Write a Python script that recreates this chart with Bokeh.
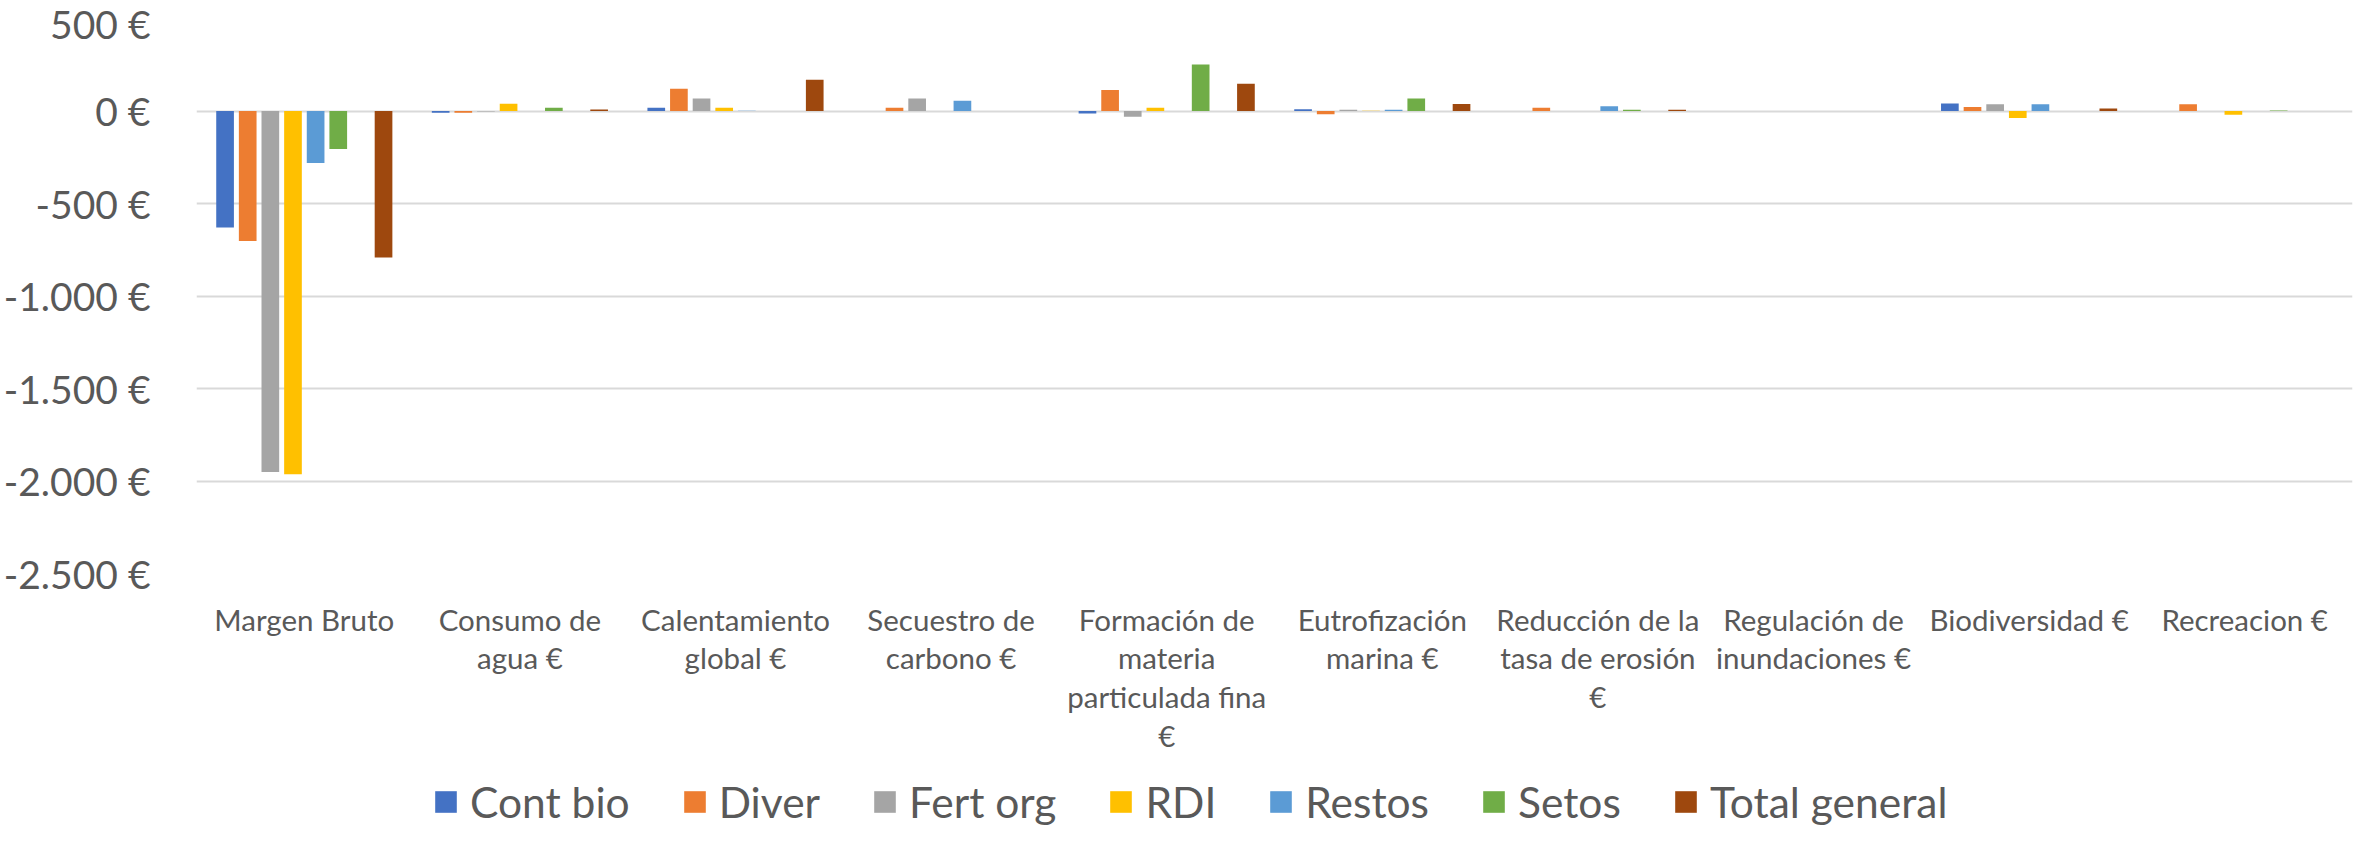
from bokeh.plotting import figure
from bokeh.layouts import column
from bokeh.models import (ColumnDataSource, FactorRange, Range1d, FixedTicker,
                          Legend, LegendItem)
from bokeh.transform import dodge
from bokeh.embed import file_html
from bokeh.resources import INLINE

# ---- data -------------------------------------------------------------
categories = ["Margen Bruto", "Consumo de agua €", "Calentamiento global €",
              "Secuestro de carbono €", "Formación de materia particulada fina €",
              "Eutrofización marina €", "Reducción de la tasa de erosión €",
              "Regulación de inundaciones €", "Biodiversidad €", "Recreacion €"]
category_labels = ["Margen Bruto", "Consumo de\nagua €", "Calentamiento\nglobal €",
                   "Secuestro de\ncarbono €", "Formación de\nmateria\nparticulada fina\n€",
                   "Eutrofización\nmarina €", "Reducción de la\ntasa de erosión\n€",
                   "Regulación de\ninundaciones €", "Biodiversidad €", "Recreacion €"]

series_names = ["Cont bio", "Diver", "Fert org", "RDI", "Restos", "Setos", "Total general"]
cont_bio      = [-630,   -9,  18,  0, -14,   9,  0, 0,  41,   0]
diver         = [-703,   -9, 120, 18, 113, -18, 18, 0,  22,  36]
fert_org      = [-1952,  -3,  67, 67, -31,   7,  0, 0,  36,   0]
rdi           = [-1963,  39,  18,  0,  18,   2,  0, 0, -38, -20]
restos        = [-281,    0,   2, 56,   0,   7, 26, 0,  36,   0]
setos         = [-206,   17,   0,  0, 252,  67,  7, 0,   0,   3]
total_general = [-792,    8, 169,  0, 147,  38,  7, 0,  14,   0]
series_values = [cont_bio, diver, fert_org, rdi, restos, setos, total_general]

y_ticks = [500, 0, -500, -1000, -1500, -2000, -2500]
y_tick_labels = ["500 €", "0 €", "-500 €", "-1.000 €", "-1.500 €", "-2.000 €", "-2.500 €"]

colors = ["#4472C4", "#ED7D31", "#A5A5A5", "#FFC000", "#5B9BD5", "#70AD47", "#9E480E"]
# Excel chart has 8 series slots; slot 6 is an empty (blank) series
slots = [0, 1, 2, 3, 4, 5, 7]

FONT = "Lato"
TXT = "#595959"
W = 2360
H_MAIN = 762
H_LEG = 65

src = {"cat": category_labels}
for name, vals in zip(series_names, series_values):
    src[name] = vals
source = ColumnDataSource(src)

p = figure(width=W, height=H_MAIN, output_backend="svg", toolbar_location=None,
           x_range=FactorRange(factors=category_labels, range_padding=0),
           y_range=Range1d(-2500, 500),
           min_border_left=189, min_border_right=8, min_border_top=18,
           min_border_bottom=H_MAIN - 573)
p.outline_line_color = None
p.background_fill_color = "white"
p.border_fill_color = "white"

slot_step = 0.105
bar_w = 0.082
for name, col, slot in zip(series_names, colors, slots):
    off = (slot - 3.5) * slot_step
    p.vbar(x=dodge("cat", off, range=p.x_range), top=name, bottom=0,
           width=bar_w, source=source, fill_color=col, line_color=None)

# grid
p.xgrid.grid_line_color = None
p.ygrid.grid_line_color = "#D9D9D9"
p.ygrid.grid_line_width = 2
p.yaxis.ticker = FixedTicker(ticks=y_ticks)
p.ygrid.ticker = FixedTicker(ticks=y_ticks)

# y axis
p.yaxis.major_label_overrides = dict(zip(y_ticks, y_tick_labels))
p.yaxis.axis_line_color = None
p.yaxis.major_tick_line_color = None
p.yaxis.minor_tick_line_color = None
p.yaxis.major_label_text_font = FONT
p.yaxis.major_label_text_font_size = "39px"
p.yaxis.major_label_text_color = TXT
p.yaxis.major_label_standoff = 40

# x axis
p.xaxis.axis_line_color = None
p.xaxis.major_tick_line_color = None
p.xaxis.minor_tick_line_color = None
p.xaxis.major_tick_out = 0
p.xaxis.major_label_text_font = FONT
p.xaxis.major_label_text_font_size = "29.5px"
p.xaxis.major_label_text_color = TXT
p.xaxis.major_label_standoff = 28
p.xaxis.major_label_text_line_height = 1.11

# ---- legend strip (separate figure below the chart) -------------------
pl = figure(width=W, height=H_LEG, output_backend="svg", toolbar_location=None,
            x_range=Range1d(0, 1), y_range=Range1d(0, 1), min_border=0,
            min_border_left=0, min_border_right=0, min_border_top=0, min_border_bottom=0)
pl.outline_line_color = None
pl.axis.visible = False
pl.grid.visible = False
leg_renderers = []
for col in colors:
    # zero-size placeholder glyph: only its legend swatch is shown
    r = pl.vbar(x=[0], top=[0], width=0, fill_color=col, line_color=None)
    leg_renderers.append(r)

legend = Legend(items=[LegendItem(label=n, renderers=[r]) for n, r in zip(series_names, leg_renderers)],
                orientation="horizontal", location=(236, 0),
                glyph_width=27, glyph_height=27, label_standoff=11, spacing=51,
                padding=0, margin=0, border_line_color=None,
                background_fill_alpha=0,
                label_text_font=FONT, label_text_font_size="42.5px",
                label_text_line_height=1.0,
                label_text_color=TXT)
pl.add_layout(legend, "center")

layout = column(p, pl, spacing=0)
open("out.html", "w").write(file_html(layout, INLINE))
